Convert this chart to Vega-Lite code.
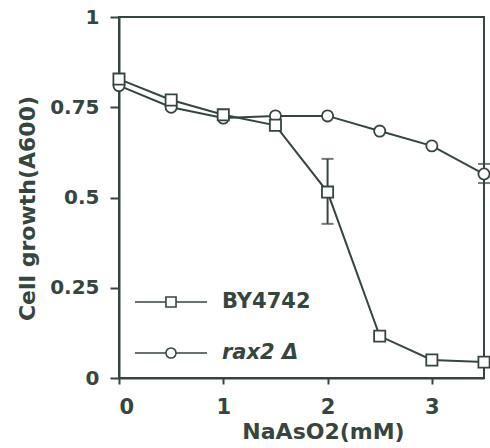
{
  "$schema": "https://vega.github.io/schema/vega-lite/v6.json",
  "width": 365,
  "height": 361,
  "autosize": {"type": "none"},
  "padding": {"left": 119, "top": 17, "right": 6, "bottom": 70},
  "background": "white",
  "config": {
    "font": "DejaVu Sans",
    "view": {"stroke": "#36463f", "strokeWidth": 2},
    "axis": {
      "grid": false,
      "domainColor": "#36463f",
      "domainWidth": 2,
      "tickColor": "#36463f",
      "tickWidth": 2,
      "labelColor": "#36463f",
      "titleColor": "#36463f",
      "labelFont": "DejaVu Sans",
      "labelFontWeight": "bold",
      "titleFont": "DejaVu Sans",
      "titleFontWeight": "bold",
      "titleFontSize": 22
    },
    "legend": {
      "title": null,
      "orient": "none",
      "padding": 0,
      "symbolSize": 576,
      "symbolStrokeWidth": 1.6,
      "symbolOpacity": 1,
      "symbolStrokeColor": "#36463f",
      "labelFont": "DejaVu Sans",
      "labelFontWeight": "bold",
      "labelFontSize": 21,
      "labelColor": "#36463f",
      "labelOffset": 38
    }
  },
  "data": {
    "values": [
      {"strain": "rax2 Δ", "conc": 0, "growth": 0.81},
      {"strain": "rax2 Δ", "conc": 0.5, "growth": 0.75},
      {"strain": "rax2 Δ", "conc": 1, "growth": 0.72},
      {"strain": "rax2 Δ", "conc": 1.5, "growth": 0.726},
      {"strain": "rax2 Δ", "conc": 2, "growth": 0.726},
      {"strain": "rax2 Δ", "conc": 2.5, "growth": 0.684},
      {"strain": "rax2 Δ", "conc": 3, "growth": 0.643},
      {"strain": "rax2 Δ", "conc": 3.5, "growth": 0.565},
      {"strain": "BY4742", "conc": 0, "growth": 0.828},
      {"strain": "BY4742", "conc": 0.5, "growth": 0.77},
      {"strain": "BY4742", "conc": 1, "growth": 0.729},
      {"strain": "BY4742", "conc": 1.5, "growth": 0.70},
      {"strain": "BY4742", "conc": 2, "growth": 0.515},
      {"strain": "BY4742", "conc": 2.5, "growth": 0.116},
      {"strain": "BY4742", "conc": 3, "growth": 0.05},
      {"strain": "BY4742", "conc": 3.5, "growth": 0.044}
    ]
  },
  "resolve": {"scale": {"shape": "independent"}},
  "layer": [
    {
      "mark": {"type": "line", "color": "#36463f", "strokeWidth": 2},
      "encoding": {
        "x": {
          "field": "conc", "type": "quantitative",
          "scale": {"domain": [0, 3.5], "nice": false},
          "axis": {
            "values": [0, 1, 2, 3],
            "labelExpr": "'' + datum.value",
            "tickSize": 6,
            "labelPadding": 12,
            "labelFontSize": 21,
            "title": "NaAsO2(mM)",
            "titleX": 204,
            "titleY": 60,
            "titleBaseline": "alphabetic"
          }
        },
        "y": {
          "field": "growth", "type": "quantitative",
          "scale": {"domain": [0, 1], "nice": false},
          "axis": {
            "values": [0, 0.25, 0.5, 0.75, 1],
            "labelExpr": "'' + datum.value",
            "tickSize": 9,
            "labelPadding": 11,
            "labelFontSize": 20,
            "title": "Cell growth(A600)",
            "titleX": -85,
            "titleY": 191,
            "titleBaseline": "alphabetic"
          }
        },
        "detail": {"field": "strain"}
      }
    },
    {
      "data": {
        "values": [
          {"strain": "BY4742", "conc": 2, "lo": 0.427, "hi": 0.607},
          {"strain": "rax2 Δ", "conc": 3.5, "lo": 0.54, "hi": 0.593}
        ]
      },
      "mark": {
        "type": "errorbar",
        "color": "#36463f",
        "thickness": 2,
        "ticks": {"size": 12, "thickness": 2, "color": "#36463f"}
      },
      "encoding": {
        "x": {"field": "conc", "type": "quantitative"},
        "y": {"field": "lo", "type": "quantitative", "title": "Cell growth(A600)"},
        "y2": {"field": "hi"}
      }
    },
    {
      "mark": {
        "type": "point",
        "filled": true,
        "fill": "white",
        "stroke": "#36463f",
        "strokeWidth": 1.8,
        "size": 125,
        "opacity": 1
      },
      "encoding": {
        "x": {"field": "conc", "type": "quantitative"},
        "y": {"field": "growth", "type": "quantitative"},
        "shape": {
          "field": "strain", "type": "nominal",
          "scale": {"domain": ["BY4742", "rax2 Δ"], "range": ["square", "circle"]},
          "legend": null
        }
      }
    },
    {
      "transform": [{"filter": "datum.strain === 'BY4742'"}],
      "mark": {"type": "point", "filled": false, "color": "#36463f", "opacity": 0},
      "encoding": {
        "x": {"field": "conc", "type": "quantitative"},
        "y": {"field": "growth", "type": "quantitative"},
        "shape": {
          "field": "strain", "type": "nominal",
          "scale": {"domain": ["BY4742"], "range": ["M-3,0H-0.42M0.42,0H3M-0.42,-0.42H0.42V0.42H-0.42Z"]},
          "legend": {"legendX": 39, "legendY": 272, "labelFontStyle": "normal"}
        }
      }
    },
    {
      "transform": [{"filter": "datum.strain === 'rax2 Δ'"}],
      "mark": {"type": "point", "filled": false, "color": "#36463f", "opacity": 0},
      "encoding": {
        "x": {"field": "conc", "type": "quantitative"},
        "y": {"field": "growth", "type": "quantitative"},
        "shape": {
          "field": "strain", "type": "nominal",
          "scale": {"domain": ["rax2 Δ"], "range": ["M-3,0H-0.42M0.42,0H3M-0.42,0A0.42,0.42,0,1,0,0.42,0A0.42,0.42,0,1,0,-0.42,0Z"]},
          "legend": {"legendX": 39, "legendY": 323, "labelFontStyle": "italic"}
        }
      }
    }
  ]
}
